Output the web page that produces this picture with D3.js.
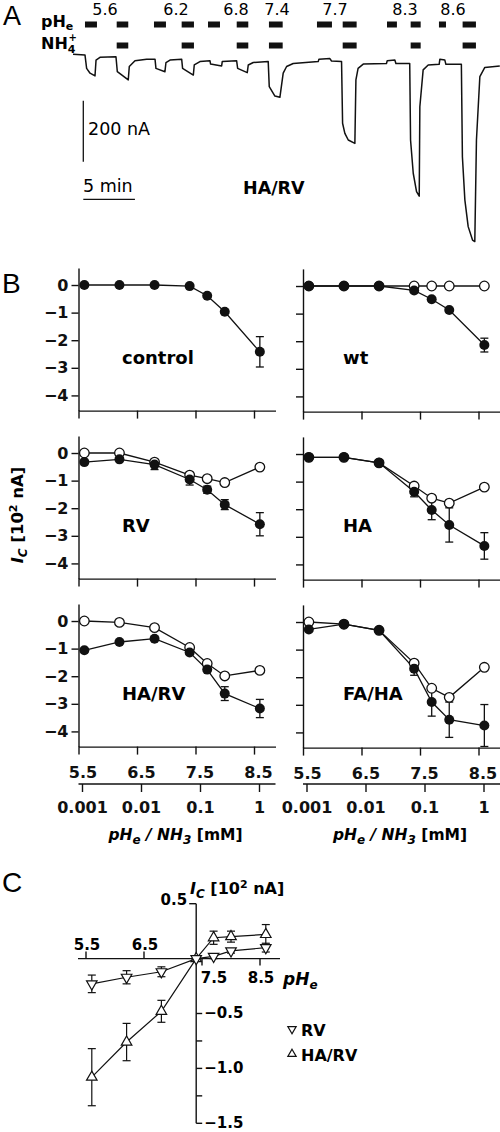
<!DOCTYPE html>
<html><head><meta charset="utf-8">
<script src="https://cdn.jsdelivr.net/npm/d3@7"></script>
<style>
body{margin:0;background:#fff;}
svg{display:block;font-family:"DejaVu Sans",Arial,sans-serif;}
</style></head><body>
<svg id="fig" width="500" height="1132"></svg>
<script>
// ---------- Panel A data (time in min, current in nA) ----------
const traceTime = [0,1.16,1.32,1.65,2.13,2.23,2.61,4.16,4.29,5.35,5.45,6.0,7.13,7.94,8.03,8.9,9.0,9.39,10.52,10.61,11.65,11.74,12.29,13.26,13.32,14.39,14.45,15.84,15.94,16.87,16.97,17.45,18.9,19.0,19.55,20.03,20.35,20.68,21.32,23.74,23.81,24.87,25.03,26.0,26.1,26.32,26.65,27.29,27.39,27.6,28.1,30.35,30.42,31.16,31.26,32.6,32.68,32.94,33.26,33.52,33.58,33.9,34.39,35.45,35.52,36.0,36.1,37.6,37.7,37.94,38.26,38.68,38.9,39.06,39.39,39.87,41.32];
const traceCurrent = [0,-2,-46,-62,-71,-19,-10,-8,-57,-84,-40,-21,-16,-16,-46,-57,-27,-19,-16,-46,-68,-35,-24,-21,-32,-38,-24,-21,-46,-60,-35,-27,-24,-106,-137,-141,-62,-40,-30,-24,-16,-14,-22,-24,-226,-259,-281,-292,-84,-46,-32,-30,-21,-19,-30,-30,-281,-390,-450,-465,-172,-51,-35,-33,-16,-19,-33,-33,-336,-478,-565,-609,-614,-281,-73,-43,-38];
const pHBarStart = [1.16,4.23,7.84,10.52,13.07,15.85,18.97,23.62,26.11,30.4,32.69,35.43,37.72];
const pHBarEnd   = [2.32,5.35,9.0,11.71,14.23,16.97,20.3,25.07,27.46,31.36,33.66,36.11,39.01];
const nh4BarStart = [4.23,10.52,15.85,18.97,26.11,32.69,37.72];
const nh4BarEnd   = [5.35,11.71,16.97,20.3,27.46,33.66,39.01];
const pHLabels = ["5.6","6.2","6.8","7.4","7.7","8.3","8.6"];
const pHLabelTime = [3.1,9.97,15.78,19.75,25.36,32.14,36.79];

// ---------- Panel B data ----------
const pHValues = [5.6,6.2,6.8,7.4,7.7,8.0,8.6];
const panelNames = ["control","wt","RV","HA","HA/RV","FA/HA"];
const controlNH4 = [0,0,0,-0.04,-0.39,-0.97,-2.42];
const controlNH4Err = [0,0,0,0,0,0,0.55];
const wtNH4 = [0,0,0,-0.16,-0.48,-0.87,-2.14];
const wtNH4Err = [0,0,0,0,0,0,0.25];
const wtPH = [0,0,0,0,0,0,0];
const rvNH4 = [-0.33,-0.23,-0.42,-0.96,-1.33,-1.87,-2.58];
const rvNH4Err = [0,0,0.18,0.2,0.13,0.18,0.42];
const rvPH = [0,0,-0.33,-0.8,-0.93,-1.07,-0.51];
const haNH4 = [-0.12,-0.12,-0.32,-1.37,-2.03,-2.57,-3.33];
const haNH4Err = [0,0,0,0.18,0.35,0.62,0.48];
const haPH = [-0.12,-0.12,-0.32,-1.16,-1.6,-1.78,-1.2];
const harvNH4 = [-1.06,-0.76,-0.64,-1.14,-1.76,-2.63,-3.17];
const harvNH4Err = [0,0,0,0,0,0.25,0.33];
const harvPH = [0,-0.05,-0.24,-0.96,-1.54,-1.99,-1.79];
const fahaNH4 = [-0.27,-0.08,-0.3,-1.69,-2.9,-3.54,-3.75];
const fahaNH4Err = [0,0,0,0.24,0.51,0.64,0.76];
const fahaPH = [0,-0.08,-0.3,-1.49,-2.4,-2.73,-1.64];
const yTicksB = [0,-1,-2,-3,-4];
const pHTicks = [5.5,6.5,7.5,8.5];
const nh3Ticks = [0.001,0.01,0.1,1];
const nh3TickLabels = ["0.001","0.01","0.1","1"];

// ---------- Panel C data ----------
const pHC = [5.6,6.2,6.8,7.4,7.7,8.0,8.6];
const rvDiff = [-0.23,-0.17,-0.12,0,0.02,0.07,0.1];
const rvDiffErr = [0.08,0.06,0.045,0,0.02,0.02,0.04];
const harvDiff = [-1.08,-0.76,-0.48,0,0.19,0.2,0.22];
const harvDiffErr = [0.26,0.17,0.1,0,0.06,0.05,0.09];
const yTicksC = [0.5,-0.5,-1.0,-1.5];
const yMinorC = [-0.75,-1.25];

const svg = d3.select("#fig");
const BLK = "#111";
const LET = "'Liberation Sans',Arial,sans-serif";

// ================= Panel A =================
svg.append("text").attr("x",3).attr("y",25).attr("font-size",27).attr("font-family",LET).text("A");
const xA = d3.scaleLinear().domain([0,41.34]).range([73,500]);
const yA = d3.scaleLinear().domain([0,-600]).range([54.3,54.3+600*0.305]);
const trace = traceTime.map((t,i)=>[t,traceCurrent[i]]);
svg.append("path").datum(trace)
  .attr("d",d3.line().x(d=>xA(d[0])).y(d=>yA(d[1])))
  .attr("fill","none").attr("stroke",BLK).attr("stroke-width",1.5).attr("stroke-linejoin","round");
svg.selectAll(".phbar").data(pHBarStart).enter().append("rect")
  .attr("x",(d)=>xA(d)).attr("width",(d,i)=>xA(pHBarEnd[i])-xA(d))
  .attr("y",21.5).attr("height",6).attr("fill",BLK);
svg.selectAll(".nhbar").data(nh4BarStart).enter().append("rect")
  .attr("x",(d)=>xA(d)).attr("width",(d,i)=>xA(nh4BarEnd[i])-xA(d))
  .attr("y",42.5).attr("height",6).attr("fill",BLK);
svg.selectAll(".phlab").data(pHLabels).enter().append("text")
  .attr("x",(d,i)=>xA(pHLabelTime[i])).attr("y",15).attr("text-anchor","middle")
  .attr("font-size",16).text(d=>d);
const tPH = svg.append("text").attr("x",41).attr("y",27).attr("font-size",16).attr("font-weight","bold");
tPH.append("tspan").text("pH");
tPH.append("tspan").attr("dy",3).attr("font-size",11).text("e");
const tNH = svg.append("text").attr("x",41).attr("y",49).attr("font-size",16).attr("font-weight","bold");
tNH.append("tspan").text("NH");
tNH.append("tspan").attr("dy",4).attr("font-size",11).text("4");
tNH.append("tspan").attr("dx",-7).attr("dy",-12).attr("font-size",10).text("+");
// scale bars
svg.append("line").attr("x1",83.3).attr("x2",83.3).attr("y1",100.7).attr("y2",100.7+(yA(-200)-yA(0)))
  .attr("stroke",BLK).attr("stroke-width",1.3);
svg.append("text").attr("x",88).attr("y",135).attr("font-size",17.5).text("200 nA");
svg.append("line").attr("x1",83.3).attr("x2",83.3+(xA(5)-xA(0))).attr("y1",199.3).attr("y2",199.3)
  .attr("stroke",BLK).attr("stroke-width",1.3);
svg.append("text").attr("x",83).attr("y",192).attr("font-size",17.5).text("5 min");
svg.append("text").attr("x",243).attr("y",194).attr("font-size",17.5).attr("font-weight","bold").text("HA/RV");

// ================= Panel B =================
svg.append("text").attr("x",2).attr("y",293).attr("font-size",28).attr("font-family",LET).text("B");
const bData = [
  {nh4:controlNH4, err:controlNH4Err, ph:null},
  {nh4:wtNH4, err:wtNH4Err, ph:wtPH},
  {nh4:rvNH4, err:rvNH4Err, ph:rvPH},
  {nh4:haNH4, err:haNH4Err, ph:haPH},
  {nh4:harvNH4, err:harvNH4Err, ph:harvPH},
  {nh4:fahaNH4, err:fahaNH4Err, ph:fahaPH}
];
const colX = [78.5,303];
const rowY = [285,453,621];
function styleAxis(a){
  a.selectAll("path,line").attr("stroke",BLK).attr("stroke-width",1.4);
  a.selectAll("text").attr("fill",BLK).attr("font-size",16).attr("font-weight","bold")
    .attr("font-family","'DejaVu Sans',Arial,sans-serif");
}
panelNames.forEach((name,i)=>{
  const col=i%2,row=Math.floor(i/2);
  const x0=colX[col], y0=rowY[row] + (col===1?1:0);
  const g = svg.append("g");
  const x = d3.scaleLinear().domain([5.5,5.5+197/58.5]).range([x0,x0+197]);
  const y = d3.scaleLinear().domain([0.62,-4.55]).range([y0-17.1,y0+125.6]);
  const yAx = d3.axisLeft(y).tickValues(yTicksB).tickSize(7).tickSizeOuter(0).tickPadding(3)
     .tickFormat(col===0?d3.format("d"):()=>"");
  const ga = g.append("g").attr("transform",`translate(${x0},0)`).call(yAx);
  const xAx = d3.axisBottom(x).tickValues(pHTicks).tickSize(8).tickSizeOuter(0).tickPadding(12)
     .tickFormat(row===2?d3.format(".1f"):()=>"");
  const gb = g.append("g").attr("transform",`translate(0,${y0+125.6})`).call(xAx);
  styleAxis(ga); styleAxis(gb);
  gb.selectAll("text").attr("dx",4);
  if(row===2){
    const xl = d3.scaleLog().domain([0.001,1]).range([x0+3.5,x0+3.5+177]);
    const nAx = d3.axisBottom(xl).tickValues(nh3Ticks).tickSize(8).tickSizeOuter(0).tickPadding(10)
      .tickFormat((d,k)=>nh3TickLabels[k]);
    const gn = g.append("g").attr("transform","translate(0,784)").call(nAx);
    gn.select(".domain").remove();
    gn.append("line").attr("x1",x0).attr("x2",x0+197).attr("y1",0).attr("y2",0);
    styleAxis(gn);
    const tt = g.append("text").attr("x",x0+97).attr("y",840).attr("text-anchor","middle")
      .attr("font-size",15.5).attr("font-weight","bold");
    tt.append("tspan").attr("font-style","italic").text("pH");
    tt.append("tspan").attr("font-style","italic").attr("dy",4).attr("font-size",12).text("e");
    tt.append("tspan").attr("font-style","italic").attr("dy",-4).text(" / NH");
    tt.append("tspan").attr("font-style","italic").attr("dy",4).attr("font-size",12).text("3");
    tt.append("tspan").attr("dy",-4).text(" [mM]");
  }
  const d = bData[i];
  const lineG = d3.line().x((v,k)=>x(pHValues[k])).y(v=>y(v));
  if(d.ph){
    g.append("path").datum(d.ph).attr("d",lineG).attr("fill","none").attr("stroke",BLK).attr("stroke-width",1.3);
  }
  g.append("path").datum(d.nh4).attr("d",lineG).attr("fill","none").attr("stroke",BLK).attr("stroke-width",1.3);
  d.nh4.forEach((v,k)=>{
    if(d.err[k]>0){
      const xx=x(pHValues[k]);
      g.append("line").attr("x1",xx).attr("x2",xx).attr("y1",y(v-d.err[k])).attr("y2",y(v+d.err[k])).attr("stroke",BLK).attr("stroke-width",1.3);
      [v-d.err[k],v+d.err[k]].forEach(e=>g.append("line").attr("x1",xx-4).attr("x2",xx+4).attr("y1",y(e)).attr("y2",y(e)).attr("stroke",BLK).attr("stroke-width",1.3));
    }
  });
  if(d.ph){
    g.selectAll(".op").data(d.ph).enter().append("circle")
      .attr("cx",(v,k)=>x(pHValues[k])).attr("cy",v=>y(v)).attr("r",4.8)
      .attr("fill","#fff").attr("stroke",BLK).attr("stroke-width",1.3);
  }
  g.selectAll(".fp").data(d.nh4).enter().append("circle")
    .attr("cx",(v,k)=>x(pHValues[k])).attr("cy",v=>y(v)).attr("r",5)
    .attr("fill",BLK);
  g.append("text").attr("x",col===0?122:343).attr("y",rowY[row]+79).attr("font-size",18).attr("font-weight","bold").text(name);
});
// y title
const yt = svg.append("text").attr("transform","translate(23,515) rotate(-90)").attr("text-anchor","middle")
  .attr("font-size",16.5).attr("font-weight","bold");
yt.append("tspan").attr("font-style","italic").text("I");
yt.append("tspan").attr("font-style","italic").attr("dy",4).attr("font-size",12).text("C");
yt.append("tspan").attr("dy",-4).text(" [10");
yt.append("tspan").attr("dy",-6).attr("font-size",11).text("2");
yt.append("tspan").attr("dy",6).text(" nA]");

// ================= Panel C =================
svg.append("text").attr("x",2).attr("y",892).attr("font-size",28).attr("font-family",LET).text("C");
const xC = d3.scaleLinear().domain([5.5,8.5]).range([86,260]);
const yC = d3.scaleLinear().domain([0.5,-1.5]).range([903.7,1123.3]);
const gC = svg.append("g");
const axX = xC(7.4), axY = yC(0);
gC.append("line").attr("x1",78).attr("x2",280).attr("y1",axY).attr("y2",axY).attr("stroke",BLK).attr("stroke-width",1.4);
gC.append("line").attr("x1",axX).attr("x2",axX).attr("y1",yC(0.5)).attr("y2",yC(-1.5)).attr("stroke",BLK).attr("stroke-width",1.4);
pHTicks.forEach(p=>{
  const up = p<7.4;
  gC.append("line").attr("x1",xC(p)).attr("x2",xC(p)).attr("y1",axY).attr("y2",up?axY-7:axY+7).attr("stroke",BLK).attr("stroke-width",1.4);
  gC.append("text").attr("x",p===7.5?xC(p)+12:xC(p)+1).attr("y",up?axY-9:axY+24).attr("text-anchor","middle")
    .attr("font-size",15).attr("font-weight","bold").text(d3.format(".1f")(p));
});
yTicksC.forEach(v=>{
  const left = v>0;
  gC.append("line").attr("x1",axX).attr("x2",left?axX-7:axX+6).attr("y1",yC(v)).attr("y2",yC(v)).attr("stroke",BLK).attr("stroke-width",1.4);
  gC.append("text").attr("x",left?axX-9:axX+8).attr("y",left?yC(v)+1:yC(v)+4.5).attr("text-anchor",left?"end":"start")
    .attr("font-size",15).attr("font-weight","bold").text(d3.format(".1f")(v));
});
yMinorC.forEach(v=>{
  gC.append("line").attr("x1",axX).attr("x2",axX+6).attr("y1",yC(v)).attr("y2",yC(v)).attr("stroke",BLK).attr("stroke-width",1.4);
});
const ctt = gC.append("text").attr("x",190).attr("y",894).attr("font-size",16).attr("font-weight","bold");
ctt.append("tspan").attr("font-style","italic").text("I");
ctt.append("tspan").attr("font-style","italic").attr("dy",4).attr("font-size",12).text("C");
ctt.append("tspan").attr("dy",-4).text(" [10");
ctt.append("tspan").attr("dy",-6).attr("font-size",11).text("2");
ctt.append("tspan").attr("dy",6).text(" nA]");
const cx = gC.append("text").attr("x",283).attr("y",985).attr("font-size",17).attr("font-weight","bold").attr("font-style","italic");
cx.append("tspan").text("pH");
cx.append("tspan").attr("dy",4).attr("font-size",12).text("e");

const triUp = d3.symbol().type(d3.symbolTriangle).size(48);
function drawC(vals, errs, down){
  const lineC = d3.line().x((v,k)=>xC(pHC[k])).y(v=>yC(v));
  gC.append("path").datum(vals).attr("d",lineC).attr("fill","none").attr("stroke",BLK).attr("stroke-width",1.2);
  vals.forEach((v,k)=>{
    if(errs[k]>0){
      const xx=xC(pHC[k]);
      gC.append("line").attr("x1",xx).attr("x2",xx).attr("y1",yC(v-errs[k])).attr("y2",yC(v+errs[k])).attr("stroke",BLK).attr("stroke-width",1.2);
      [v-errs[k],v+errs[k]].forEach(e=>gC.append("line").attr("x1",xx-4).attr("x2",xx+4).attr("y1",yC(e)).attr("y2",yC(e)).attr("stroke",BLK).attr("stroke-width",1.2));
    }
  });
  vals.forEach((v,k)=>{
    gC.append("path").attr("d",triUp()).attr("transform",`translate(${xC(pHC[k])},${yC(v)}) rotate(${down?180:0})`)
      .attr("fill","#fff").attr("stroke",BLK).attr("stroke-width",1.2);
  });
}
drawC(harvDiff, harvDiffErr, false);
drawC(rvDiff, rvDiffErr, true);
// legend
const legendNames = ["RV","HA/RV"];
legendNames.forEach((n,k)=>{
  const ly = 1034 + k*25;
  gC.append("path").attr("d",d3.symbol().type(d3.symbolTriangle).size(30)())
    .attr("transform",`translate(${292},${ly-5}) rotate(${k===0?180:0})`)
    .attr("fill","#fff").attr("stroke",BLK).attr("stroke-width",1.2);
  gC.append("text").attr("x",301).attr("y",ly+2).attr("font-size",16).attr("font-weight","bold").text(n);
});
</script>
</body></html>
